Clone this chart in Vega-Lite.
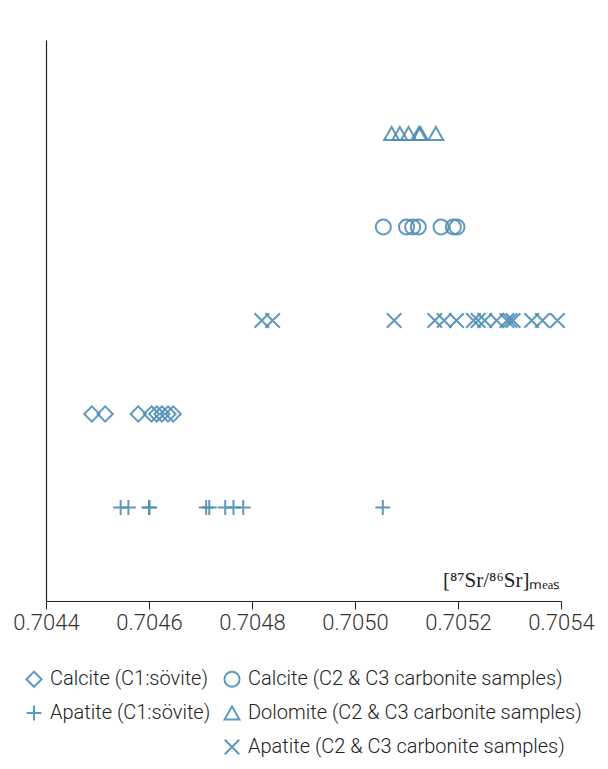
{
  "$schema": "https://vega.github.io/schema/vega-lite/v6.json",
  "width": 515,
  "height": 561,
  "autosize": {"type": "none"},
  "padding": {"left": 46, "top": 40, "right": 47, "bottom": 168},
  "background": "white",
  "config": {
    "view": {"stroke": null},
    "font": "Roboto"
  },
  "data": {
    "values": [
      {"x": 0.705071, "series": "Dolomite (C2 & C3 carbonite samples)"},
      {"x": 0.705087, "series": "Dolomite (C2 & C3 carbonite samples)"},
      {"x": 0.705104, "series": "Dolomite (C2 & C3 carbonite samples)"},
      {"x": 0.705124, "series": "Dolomite (C2 & C3 carbonite samples)"},
      {"x": 0.705127, "series": "Dolomite (C2 & C3 carbonite samples)"},
      {"x": 0.705157, "series": "Dolomite (C2 & C3 carbonite samples)"},
      {"x": 0.705055, "series": "Calcite (C2 & C3 carbonite samples)"},
      {"x": 0.705100, "series": "Calcite (C2 & C3 carbonite samples)"},
      {"x": 0.705112, "series": "Calcite (C2 & C3 carbonite samples)"},
      {"x": 0.705123, "series": "Calcite (C2 & C3 carbonite samples)"},
      {"x": 0.705167, "series": "Calcite (C2 & C3 carbonite samples)"},
      {"x": 0.705191, "series": "Calcite (C2 & C3 carbonite samples)"},
      {"x": 0.705198, "series": "Calcite (C2 & C3 carbonite samples)"},
      {"x": 0.704819, "series": "Apatite (C2 & C3 carbonite samples)"},
      {"x": 0.704840, "series": "Apatite (C2 & C3 carbonite samples)"},
      {"x": 0.705076, "series": "Apatite (C2 & C3 carbonite samples)"},
      {"x": 0.705155, "series": "Apatite (C2 & C3 carbonite samples)"},
      {"x": 0.705173, "series": "Apatite (C2 & C3 carbonite samples)"},
      {"x": 0.705197, "series": "Apatite (C2 & C3 carbonite samples)"},
      {"x": 0.705230, "series": "Apatite (C2 & C3 carbonite samples)"},
      {"x": 0.705239, "series": "Apatite (C2 & C3 carbonite samples)"},
      {"x": 0.705252, "series": "Apatite (C2 & C3 carbonite samples)"},
      {"x": 0.705275, "series": "Apatite (C2 & C3 carbonite samples)"},
      {"x": 0.705295, "series": "Apatite (C2 & C3 carbonite samples)"},
      {"x": 0.705301, "series": "Apatite (C2 & C3 carbonite samples)"},
      {"x": 0.705307, "series": "Apatite (C2 & C3 carbonite samples)"},
      {"x": 0.705343, "series": "Apatite (C2 & C3 carbonite samples)"},
      {"x": 0.705364, "series": "Apatite (C2 & C3 carbonite samples)"},
      {"x": 0.705393, "series": "Apatite (C2 & C3 carbonite samples)"},
      {"x": 0.704489, "series": "Calcite (C1:sövite)"},
      {"x": 0.704515, "series": "Calcite (C1:sövite)"},
      {"x": 0.704579, "series": "Calcite (C1:sövite)"},
      {"x": 0.704605, "series": "Calcite (C1:sövite)"},
      {"x": 0.704615, "series": "Calcite (C1:sövite)"},
      {"x": 0.704625, "series": "Calcite (C1:sövite)"},
      {"x": 0.704637, "series": "Calcite (C1:sövite)"},
      {"x": 0.704647, "series": "Calcite (C1:sövite)"},
      {"x": 0.704545, "series": "Apatite (C1:sövite)"},
      {"x": 0.704560, "series": "Apatite (C1:sövite)"},
      {"x": 0.704600, "series": "Apatite (C1:sövite)"},
      {"x": 0.704601, "series": "Apatite (C1:sövite)"},
      {"x": 0.704711, "series": "Apatite (C1:sövite)"},
      {"x": 0.704717, "series": "Apatite (C1:sövite)"},
      {"x": 0.704748, "series": "Apatite (C1:sövite)"},
      {"x": 0.704764, "series": "Apatite (C1:sövite)"},
      {"x": 0.704783, "series": "Apatite (C1:sövite)"},
      {"x": 0.705054, "series": "Apatite (C1:sövite)"}
    ]
  },
  "mark": {"type": "point", "filled": false, "strokeWidth": 2, "color": "#4e8fb4", "opacity": 0.9},
  "encoding": {
    "x": {
      "field": "x",
      "type": "quantitative",
      "scale": {"domain": [0.7044, 0.7054], "nice": false, "zero": false},
      "axis": {
        "values": [0.7044, 0.7046, 0.7048, 0.705, 0.7052, 0.7054],
        "format": ".4f",
        "grid": false,
        "domainColor": "#222",
        "domainWidth": 1.2,
        "tickColor": "#222",
        "tickSize": 8,
        "labelFontSize": 22,
        "labelColor": "#333",
        "labelFont": "Roboto",
        "labelFontWeight": 300,
        "labelPadding": 3,
        "labelFlush": false,
        "title": "[⁸⁷Sr/⁸⁶Sr]ₘₑₐₛ",
        "titleFont": "Liberation Serif",
        "titleFontSize": 21,
        "titleFontWeight": "normal",
        "titleColor": "#222",
        "titleAnchor": "end",
        "titleAlign": "right",
        "titleBaseline": "alphabetic",
        "titleX": 514,
        "titleY": -15
      }
    },
    "y": {
      "field": "series",
      "type": "nominal",
      "scale": {
        "type": "point",
        "padding": 1,
        "domain": [
          "Dolomite (C2 & C3 carbonite samples)",
          "Calcite (C2 & C3 carbonite samples)",
          "Apatite (C2 & C3 carbonite samples)",
          "Calcite (C1:sövite)",
          "Apatite (C1:sövite)"
        ]
      },
      "axis": {
        "labels": false,
        "ticks": false,
        "title": null,
        "grid": false,
        "domainColor": "#222",
        "domainWidth": 1.2
      }
    },
    "shape": {
      "field": "series",
      "type": "nominal",
      "scale": {
        "domain": [
          "Calcite (C1:sövite)",
          "Calcite (C2 & C3 carbonite samples)",
          "Apatite (C1:sövite)",
          "Dolomite (C2 & C3 carbonite samples)",
          " ",
          "Apatite (C2 & C3 carbonite samples)"
        ],
        "range": [
          "diamond",
          "circle",
          "M-1,0H1M0,-1V1",
          "triangle-up",
          "M0,0",
          "M-1,-1L1,1M-1,1L1,-1"
        ]
      },
      "legend": {
        "orient": "none",
        "legendX": -22,
        "legendY": 629,
        "columns": 2,
        "direction": "horizontal",
        "gridAlign": "each",
        "title": null,
        "labelFont": "Roboto",
        "labelFontSize": 20,
        "labelFontWeight": 300,
        "labelColor": "#222",
        "labelLimit": 450,
        "symbolStrokeColor": "#4e8fb4",
        "symbolStrokeWidth": 2,
        "symbolFillColor": "transparent",
        "symbolOpacity": 1,
        "columnPadding": 9,
        "rowPadding": 10,
        "labelOffset": 6
      }
    },
    "size": {
      "field": "series",
      "type": "nominal",
      "scale": {
        "domain": [
          "Calcite (C1:sövite)",
          "Calcite (C2 & C3 carbonite samples)",
          "Apatite (C1:sövite)",
          "Dolomite (C2 & C3 carbonite samples)",
          " ",
          "Apatite (C2 & C3 carbonite samples)"
        ],
        "range": [230, 210, 200, 110, 10, 70]
      }
    }
  }
}
